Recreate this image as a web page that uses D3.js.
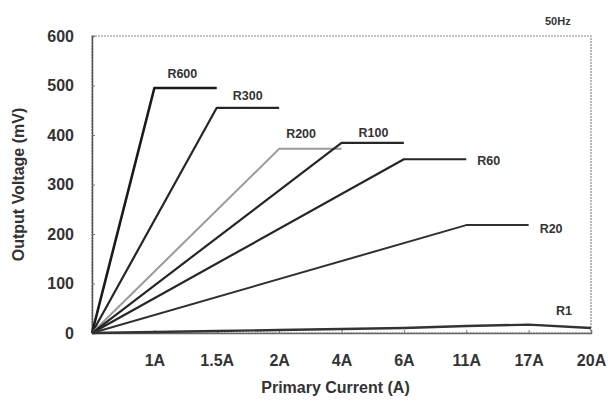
<!DOCTYPE html>
<html>
<head>
<meta charset="utf-8">
<script src="https://cdn.jsdelivr.net/npm/d3@7"></script>
<style>
  body { margin: 0; background: #fff; }
  svg { font-family: "Liberation Sans", Arial, sans-serif; }
</style>
</head>
<body>
<svg id="chart" width="608" height="403"></svg>
<script>
// x categories (index 0 is the origin)
var categories = ["0", "1A", "1.5A", "2A", "4A", "6A", "11A", "17A", "20A"];
var yTicks = [0, 100, 200, 300, 400, 500, 600];

// each series: list of [category index, mV]
var seriesNames = ["R600", "R300", "R200", "R100", "R60", "R20", "R1"];
var r600 = [[0, 0], [1, 495], [2, 495]];
var r300 = [[0, 0], [2, 455], [3, 455]];
var r200 = [[0, 0], [3, 372], [4, 372]];
var r100 = [[0, 0], [4, 384], [5, 384]];
var r60  = [[0, 0], [5, 351], [6, 351]];
var r20  = [[0, 0], [6, 218], [7, 218]];
var r1   = [[0, 0], [1, 2], [2, 4], [3, 6], [4, 8], [5, 10], [6, 14], [7, 17], [8, 10]];
var seriesValues = [r600, r300, r200, r100, r60, r20, r1];

function drawChart() {
  var svg = d3.select("#chart"),
      margin = {top: 36, right: 17, bottom: 70, left: 92},
      width = +svg.attr("width") - margin.left - margin.right,
      height = +svg.attr("height") - margin.top - margin.bottom,
      g = svg.append("g").attr("transform", "translate(" + margin.left + "," + margin.top + ")");

  var x = d3.scaleLinear().domain([0, categories.length - 1]).range([0, width]);
  var y = d3.scaleLinear().domain([0, 600]).range([height, 0]);

  // frame
  g.append("rect")
      .attr("width", width)
      .attr("height", height)
      .attr("fill", "none")
      .attr("stroke", "#8a8a8a")
      .attr("stroke-width", 1.2)
      .attr("stroke-dasharray", "2,1");

  // y axis
  var yAxis = g.append("g")
      .call(d3.axisLeft(y).tickValues(yTicks).tickSize(-3).tickPadding(18));
  yAxis.select(".domain").attr("stroke", "#555").attr("stroke-width", 1.5);
  yAxis.selectAll(".tick line").attr("stroke", "#777");
  yAxis.selectAll("text")
      .attr("font-size", 16)
      .attr("font-weight", "bold")
      .attr("fill", "#333");

  // x axis
  var xAxis = g.append("g")
      .attr("transform", "translate(0," + height + ")")
      .call(d3.axisBottom(x)
        .tickValues(d3.range(1, categories.length))
        .tickFormat(function(i) { return categories[i]; })
        .tickSize(-3)
        .tickPadding(22));
  xAxis.select(".domain").attr("stroke", "#666").attr("stroke-width", 1.5);
  xAxis.selectAll(".tick line").attr("stroke", "#777");
  xAxis.selectAll("text")
      .attr("font-size", 16)
      .attr("font-weight", "bold")
      .attr("fill", "#333");

  // lines
  var line = d3.line()
      .x(function(d) { return x(d[0]); })
      .y(function(d) { return y(d[1]); });

  var strokeColors = ["#1a1a1a", "#262626", "#9a9a9a", "#262626", "#262626", "#303030", "#333"];
  var strokeWidths = [2.6, 2.2, 2, 2.2, 2.2, 2, 2.4];

  g.selectAll(".series")
    .data(seriesValues)
    .enter().append("path")
      .attr("class", "series")
      .attr("d", line)
      .attr("fill", "none")
      .attr("stroke", function(d, i) { return strokeColors[i]; })
      .attr("stroke-width", function(d, i) { return strokeWidths[i]; })
      .attr("stroke-linejoin", "round");

  // series labels, offset from a point of each line
  var labelAnchor = [1, 1, 1, 1, 2, 2, 2];
  var labelOffsets = [[13, -10], [16, -8], [7, -11], [17, -6], [11, 6], [11, 8], [-35, -13]];

  g.selectAll(".label")
    .data(seriesValues)
    .enter().append("text")
      .attr("class", "label")
      .attr("x", function(d, i) { var p = d[Math.min(labelAnchor[i], d.length - 1)]; if (i == 6) p = d[d.length - 1]; return x(p[0]) + labelOffsets[i][0]; })
      .attr("y", function(d, i) { var p = d[Math.min(labelAnchor[i], d.length - 1)]; if (i == 6) p = d[d.length - 1]; return y(p[1]) + labelOffsets[i][1]; })
      .attr("font-size", 12.5)
      .attr("font-weight", "bold")
      .attr("fill", "#333")
      .text(function(d, i) { return seriesNames[i]; });

  // titles
  svg.append("text")
      .attr("x", 545)
      .attr("y", 25)
      .attr("font-size", 11)
      .attr("font-weight", "bold")
      .attr("fill", "#333")
      .text("50Hz");

  svg.append("text")
      .attr("x", margin.left + width / 2 - 6)
      .attr("y", 393)
      .attr("text-anchor", "middle")
      .attr("font-size", 16)
      .attr("font-weight", "bold")
      .attr("fill", "#333")
      .text("Primary Current (A)");

  svg.append("text")
      .attr("transform", "translate(24," + (margin.top + height / 2) + ") rotate(-90)")
      .attr("text-anchor", "middle")
      .attr("font-size", 16)
      .attr("font-weight", "bold")
      .attr("fill", "#333")
      .text("Output Voltage (mV)");
}
drawChart();
</script>
</body>
</html>
